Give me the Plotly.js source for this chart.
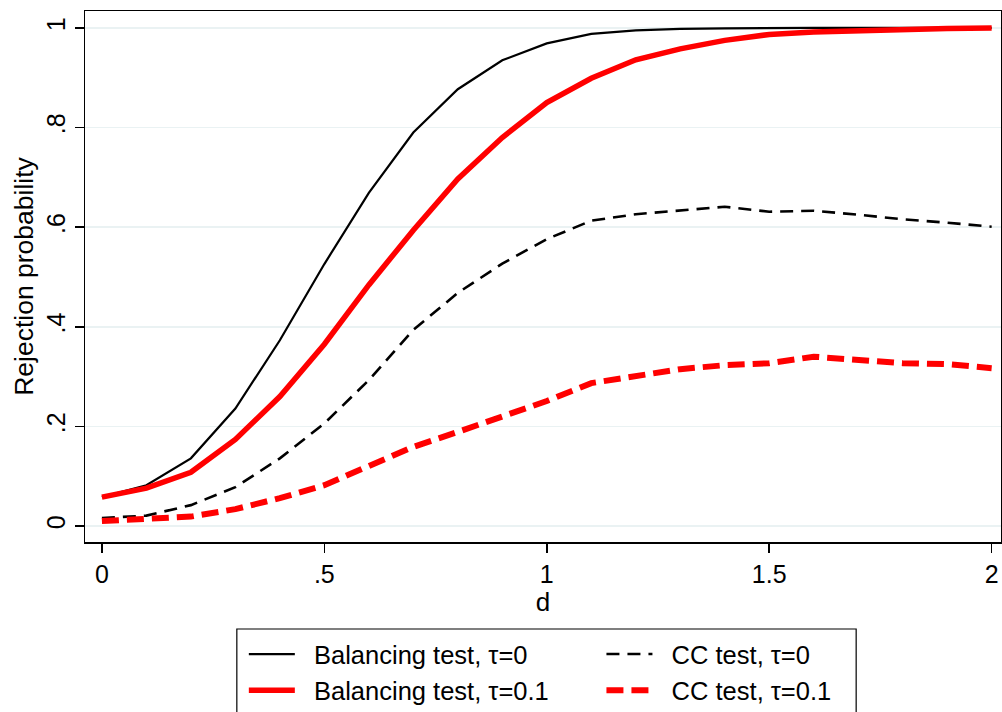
<!DOCTYPE html>
<html>
<head>
<meta charset="utf-8">
<script src="https://cdn.plot.ly/plotly-3.0.1.min.js"></script>
<style>html,body{margin:0;padding:0;background:#fff;}#chart{width:1002px;height:712px;}</style>
</head>
<body>
<div id="chart"></div>
<script>
const d = [0,0.1,0.2,0.3,0.4,0.5,0.6,0.7,0.8,0.9,1.0,1.1,1.2,1.3,1.4,1.5,1.6,1.7,1.8,1.9,2.0];
const balancingTau0  = [0.058,0.082,0.136,0.236,0.373,0.526,0.669,0.790,0.877,0.935,0.969,0.988,0.995,0.998,0.999,1.0,1.0,1.0,1.0,1.0,1.0];
const balancingTau01 = [0.058,0.076,0.108,0.174,0.260,0.365,0.484,0.594,0.697,0.780,0.850,0.899,0.936,0.958,0.975,0.987,0.992,0.995,0.997,0.999,1.0];
const ccTau0  = [0.016,0.021,0.042,0.078,0.136,0.206,0.293,0.394,0.468,0.527,0.576,0.613,0.626,0.633,0.641,0.631,0.633,0.625,0.616,0.609,0.601];
const ccTau01 = [0.010,0.013,0.019,0.034,0.056,0.082,0.119,0.159,0.189,0.219,0.251,0.287,0.300,0.315,0.323,0.327,0.340,0.332,0.327,0.325,0.317];
const names = ["Balancing test, τ=0","CC test, τ=0","Balancing test, τ=0.1","CC test, τ=0.1"];
const yTickVals = [0,0.2,0.4,0.6,0.8,1];
const yTickText = ["0",".2",".4",".6",".8","1"];
const xTickVals = [0,0.5,1,1.5,2];
const xTickText = ["0",".5","1","1.5","2"];

const FONT = "Liberation Sans, Arial, Helvetica, sans-serif";
const PAD = "\u00a0\u00a0";
const traces = [
  {x:d, y:balancingTau0, name:PAD+names[0], legend:"legend", mode:"lines", line:{color:"#000000", width:2.2}},
  {x:d, y:ccTau0, name:PAD+names[1], legend:"legend2", mode:"lines", line:{color:"#000000", width:2.6, dash:"13px,8px"}},
  {x:d, y:balancingTau01, name:PAD+names[2], legend:"legend", mode:"lines", line:{color:"#ff0000", width:5.5}},
  {x:d, y:ccTau01, name:PAD+names[3], legend:"legend2", mode:"lines", line:{color:"#ff0000", width:6, dash:"17px,8px"}}
];
const legendCommon = {
  orientation:"v", xanchor:"left", yanchor:"top",
  borderwidth:0, bgcolor:"rgba(0,0,0,0)", itemwidth:46,
  font:{family:FONT, size:25.5}, traceorder:"normal"
};
const layout = {
  width:1002, height:712,
  margin:{l:85, r:1, t:11, b:170, autoexpand:false},
  paper_bgcolor:"#ffffff", plot_bgcolor:"#ffffff",
  font:{family:FONT, size:25, color:"#000000"},
  showlegend:true,
  xaxis:{
    range:[-0.038,2.021], tickvals:xTickVals, ticktext:xTickText,
    ticks:"outside", ticklen:9, tickwidth:1.5, tickcolor:"#000",
    showgrid:false, zeroline:false,
    showline:true, mirror:true, linecolor:"#000", linewidth:1.5,
    tickfont:{family:FONT, size:25},
    title:{text:"d", font:{family:FONT, size:26}, standoff:1}
  },
  yaxis:{
    range:[-0.032,1.034], tickvals:yTickVals, ticktext:yTickText,
    ticks:"outside", ticklen:9, tickwidth:1.5, tickcolor:"#000",
    tickangle:-90,
    showgrid:true, gridcolor:"#eaf2f3", gridwidth:1.5, zeroline:false,
    showline:true, mirror:true, linecolor:"#000", linewidth:1.5,
    tickfont:{family:FONT, size:25},
    ticklabelstandoff:0,
    title:{text:"Rejection probability", font:{family:FONT, size:26.5}, standoff:0}
  },
  legend:Object.assign({}, legendCommon, {x:0.1734, y:-0.1676}),
  legend2:Object.assign({}, legendCommon, {x:0.5638, y:-0.1676}),
  shapes:[{
    type:"rect", xref:"paper", yref:"paper",
    x0:0.16576, x1:0.84188, y0:-0.16384, y1:-0.34,
    line:{color:"#000", width:1.2}, fillcolor:"rgba(0,0,0,0)", layer:"below"
  }]
};
Plotly.newPlot("chart", traces, layout, {displayModeBar:false, staticPlot:true});
</script>
</body>
</html>
